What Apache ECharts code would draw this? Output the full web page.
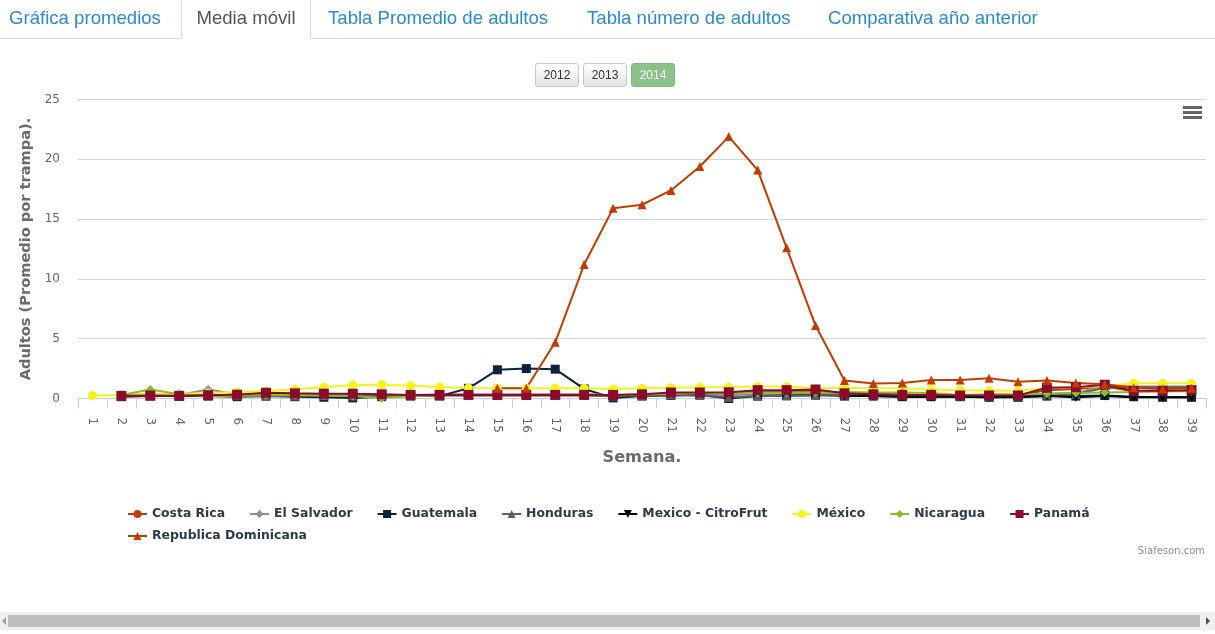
<!DOCTYPE html>
<html>
<head>
<meta charset="utf-8">
<script src="https://cdn.jsdelivr.net/npm/echarts@6/dist/echarts.min.js"></script>
<style>
  html, body { margin: 0; padding: 0; width: 1215px; height: 634px; overflow: hidden; background: #fff; font-family: "Liberation Sans", Arial, sans-serif; }
  #chart { position: absolute; left: 0; top: 0; width: 1215px; height: 634px; }
  .tabline { position: absolute; left: 0; top: 38px; width: 1215px; height: 1px; background: #ddd; z-index: 2; }
  .tab { position: absolute; top: 0; height: 38px; line-height: 35px; font-size: 18.6px; color: #2a8ad4; white-space: nowrap; z-index: 3; }
  .tab.active { color: #555; background: #fff; border: 1px solid #ddd; border-bottom: 1px solid #fff; border-top: none; height: 39px; box-sizing: border-box; text-align: center; }
  .btn { position: absolute; top: 63px; height: 24px; width: 44px; box-sizing: border-box; border: 1px solid #c8c8c8; border-radius: 3px;
         background: linear-gradient(#ffffff, #e2e2e2); font-size: 12px; line-height: 22px; text-align: center; color: #333; z-index: 3; }
  .btn.on { background: #8cc28a; border-color: #7fb87d; color: #fff; }
  .sbtrack { position: absolute; left: 0; top: 612px; width: 1215px; height: 18px; background: #f0f0f0; z-index: 3; }
  .sbthumb { position: absolute; left: 8px; top: 615px; width: 1192px; height: 12px; background: #bdbdbd; z-index: 4; }
  .sbarrow { position: absolute; left: 1206px; top: 617px; width: 0; height: 0; border-top: 4px solid transparent; border-bottom: 4px solid transparent; border-left: 4px solid #505050; z-index: 4; }
  .sbarrowl { position: absolute; left: 2px; top: 617px; width: 0; height: 0; border-top: 4px solid transparent; border-bottom: 4px solid transparent; border-right: 4px solid #a0a0a0; z-index: 4; }
</style>
</head>
<body>
<div id="chart"></div>
<div class="tabline"></div>
<div class="tab" style="left:9px;">Gráfica promedios</div>
<div class="tab active" style="left:181px;width:130px;">Media móvil</div>
<div class="tab" style="left:328px;">Tabla Promedio de adultos</div>
<div class="tab" style="left:587px;">Tabla número de adultos</div>
<div class="tab" style="left:828px;">Comparativa año anterior</div>
<div class="btn" style="left:535px;">2012</div>
<div class="btn" style="left:583px;">2013</div>
<div class="btn on" style="left:631px;">2014</div>
<div class="sbtrack"></div>
<div class="sbthumb"></div>
<div class="sbarrowl"></div>
<div class="sbarrow"></div>
<script>
// ---- Data ----
const weeks = ['1','2','3','4','5','6','7','8','9','10','11','12','13','14','15','16','17','18','19','20',
               '21','22','23','24','25','26','27','28','29','30','31','32','33','34','35','36','37','38','39'];

const costaRica = [null,0.2,0.22,0.2,0.25,0.3,0.4,0.38,0.35,0.35,0.3,0.28,0.28,0.28,0.28,0.28,0.28,0.28,0.25,0.3,
                   0.4,0.45,0.45,0.6,0.6,0.65,0.4,0.3,0.28,0.28,0.22,0.22,0.22,0.7,0.8,1.0,0.6,0.6,0.65];
const elSalvador = [null,0.3,0.35,0.3,0.75,0.35,0.35,0.3,0.3,0.3,0.3,0.3,0.35,0.35,0.35,0.35,0.35,0.35,0.25,0.3,
                    0.35,0.35,0.3,0.35,0.35,0.4,0.35,0.4,0.35,0.3,0.3,0.3,0.3,0.4,0.45,1.1,1.0,1.0,1.0];
const guatemala = [null,0.15,0.2,0.2,0.2,0.15,0.2,0.15,0.1,0.05,0.15,0.2,0.2,0.85,2.4,2.5,2.45,0.8,0.05,0.2,
                   0.25,0.3,0.0,0.2,0.25,0.3,0.2,0.2,0.15,0.15,0.15,0.1,0.1,0.2,0.2,0.25,0.15,0.1,0.1];
const honduras = [null,0.2,0.3,0.25,0.3,0.25,0.2,0.2,0.25,0.2,0.2,0.25,0.25,0.25,0.25,0.25,0.25,0.25,0.2,0.25,
                  0.3,0.25,0.1,0.2,0.2,0.25,0.3,0.3,0.3,0.25,0.2,0.2,0.2,0.3,0.35,0.9,0.95,0.95,0.95];
const mexicoCitroFrut = [null,null,null,null,null,null,null,null,null,null,null,null,null,null,null,null,null,null,null,null,
                         null,null,null,null,null,null,0.2,0.2,0.15,0.15,0.15,0.1,0.15,0.2,0.1,0.2,0.1,0.1,0.1];
const mexico = [0.25,0.3,0.35,0.37,0.45,0.55,0.62,0.77,0.95,1.13,1.15,1.07,0.96,0.88,0.85,0.85,0.85,0.85,0.8,0.85,
                0.9,0.95,0.95,1.0,1.0,0.85,0.9,0.85,0.85,0.75,0.7,0.65,0.65,0.85,0.95,1.05,1.27,1.27,1.27];
const nicaragua = [null,0.3,0.75,0.35,0.2,0.2,0.3,0.3,0.25,0.2,0.05,0.2,0.25,0.3,0.3,0.3,0.3,0.35,0.3,0.35,
                   0.4,0.45,0.45,0.5,0.5,0.5,0.55,0.5,0.5,0.45,0.3,0.35,0.35,0.4,0.45,0.5,0.55,0.6,0.6];
const panama = [null,0.22,0.25,0.22,0.28,0.32,0.48,0.43,0.4,0.4,0.35,0.3,0.3,0.3,0.3,0.3,0.3,0.3,0.3,0.35,
                0.5,0.5,0.52,0.7,0.7,0.75,0.43,0.35,0.3,0.3,0.25,0.25,0.25,0.9,0.95,1.15,0.65,0.65,0.7];
const repDominicana = [null,null,null,null,null,null,null,null,null,null,null,null,null,null,0.85,0.85,4.7,11.2,15.9,16.2,
                       17.4,19.4,21.9,19.1,12.6,6.1,1.5,1.25,1.3,1.55,1.55,1.7,1.4,1.5,1.3,1.2,0.9,0.8,0.85];

const yTicks = { min: 0, max: 25, interval: 5 };

const names = ['Costa Rica','El Salvador','Guatemala','Honduras','Mexico - CitroFrut','México','Nicaragua','Panamá','Republica Dominicana'];
const seriesData = [costaRica, elSalvador, guatemala, honduras, mexicoCitroFrut, mexico, nicaragua, panama, repDominicana];
const colors = ['#c23b0c','#8e8e8e','#0d233a','#5e5e5e','#000000','#f4f41c','#8bbc21','#8a0b2b','#c23b00'];
const symbols = ['circle','diamond','rect','triangle','path://M0,0 L10,0 L5,9 Z','circle','diamond','rect','triangle'];
const sizes = [8,9,9,9,9,9,9,10,9];

const chart = echarts.init(document.getElementById('chart'), null, { renderer: 'canvas' });
const FONT = 'DejaVu Sans';

const series = names.map((n, i) => ({
  name: n,
  type: 'line',
  data: seriesData[i],
  symbol: symbols[i],
  symbolSize: sizes[i],
  showAllSymbol: true,
  connectNulls: false,
  color: colors[i],
  lineStyle: { width: 2, color: colors[i] },
  itemStyle: { color: colors[i] },
  emphasis: { disabled: true }
}));

const legendText = { fontFamily: FONT, fontSize: 12.4, fontWeight: 'bold', color: '#2d3b4a' };

chart.setOption({
  animation: false,
  textStyle: { fontFamily: FONT },
  grid: { left: 78, right: 9, top: 99.5, bottom: 235.5, containLabel: false },
  xAxis: {
    type: 'category',
    data: weeks,
    boundaryGap: true,
    name: 'Semana.',
    nameLocation: 'middle',
    nameGap: 51,
    nameTextStyle: { fontFamily: FONT, fontSize: 16.2, fontWeight: 'bold', color: '#6b6b6b' },
    axisLine: { show: true, lineStyle: { color: '#c0d0e0', width: 1 } },
    axisTick: { show: true, length: 10, alignWithLabel: false, lineStyle: { color: '#c0d0e0' } },
    axisLabel: { interval: 0, rotate: -90, margin: 19, fontFamily: FONT, fontSize: 12, color: '#666' },
    splitLine: { show: false }
  },
  yAxis: {
    type: 'value',
    min: yTicks.min, max: yTicks.max, interval: yTicks.interval,
    name: 'Adultos (Promedio por trampa).',
    nameLocation: 'middle',
    nameRotate: 90,
    nameGap: 44,
    nameTextStyle: { fontFamily: FONT, fontSize: 14.6, fontWeight: 'bold', color: '#6b6b6b' },
    axisLine: { show: false },
    axisTick: { show: false },
    axisLabel: { margin: 18, fontFamily: FONT, fontSize: 12, color: '#666' },
    splitLine: { show: true, lineStyle: { color: '#d4d4d4', width: 1 } }
  },
  legend: [
    {
      data: names.slice(0, 8),
      left: 122, top: 503,
      itemWidth: 19, itemHeight: 10, itemGap: 24,
      textStyle: legendText,
      selectedMode: false
    },
    {
      data: names.slice(8),
      left: 122, top: 525,
      itemWidth: 19, itemHeight: 10, itemGap: 24,
      textStyle: legendText,
      selectedMode: false
    }
  ],
  graphic: [
    { type: 'text', right: 10, top: 546, style: { text: 'Siafeson.com', fontFamily: FONT, fontSize: 10, fill: '#909090' } },
    { type: 'group', left: 1183, top: 106, children: [
      { type: 'rect', shape: { x: 0, y: 0, width: 19, height: 3 }, style: { fill: '#666' } },
      { type: 'rect', shape: { x: 0, y: 5, width: 19, height: 3 }, style: { fill: '#666' } },
      { type: 'rect', shape: { x: 0, y: 10, width: 19, height: 3 }, style: { fill: '#666' } }
    ]}
  ],
  series: series
});
</script>
</body>
</html>
